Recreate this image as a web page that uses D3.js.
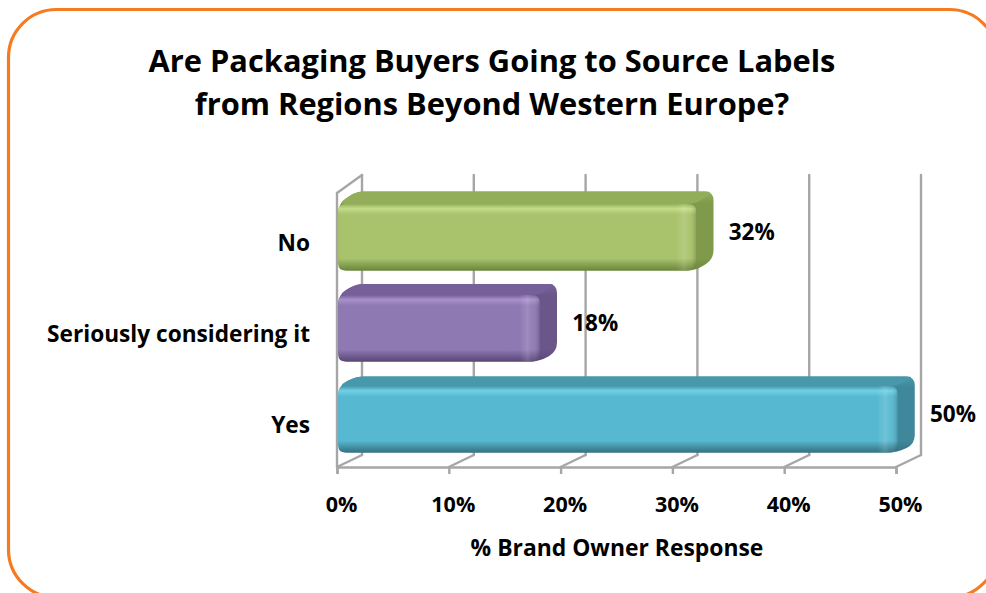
<!DOCTYPE html>
<html>
<head>
<meta charset="utf-8">
<script src="https://cdn.jsdelivr.net/npm/d3@7"></script>
<style>
  html, body { margin: 0; padding: 0; background: #fff; }
  svg { display: block; font-family: "Open Sans", Lato, sans-serif; font-weight: 700; }
</style>
</head>
<body>
<script>
// ---- data ----
const titleLines = ["Are Packaging Buyers Going to Source Labels", "from Regions Beyond Western Europe?"];
const categories = ["No", "Seriously considering it", "Yes"];
const shares = [0.32, 0.18, 0.50];
const shareLabels = ["32%", "18%", "50%"];
const tickValues = [0, 0.1, 0.2, 0.3, 0.4, 0.5];
const tickLabels = ["0%", "10%", "20%", "30%", "40%", "50%"];
const axisTitle = "% Brand Owner Response";

// ---- bar shading, one entry per category ----
const palette = [
  { front: "#A8C36B", light: "#C4DC88", top: "#93AE5A", side: "#7F9A4A", dark: "#6C873C" },
  { front: "#8F79B3", light: "#A891CB", top: "#77609A", side: "#6B568A", dark: "#594676" },
  { front: "#57B9D1", light: "#6FD0E6", top: "#4898AC", side: "#3F879A", dark: "#347284" }
];

const FONT = "'Open Sans', Lato, sans-serif";
const W = 986, H = 593;
const plot = { left: 337, right: 896, top: 193, bottom: 467 };
const DEPTH_DX = 25;
// vertical depth shift grows slightly toward the top (perspective)
const depthDy = yy => -18 + 6 * (yy - plot.top) / (plot.bottom - plot.top);
const P = (px, py, z) => [px + z * DEPTH_DX, py + z * depthDy(py)];

const x = d3.scaleLinear().domain([0, 0.5]).range([plot.left, plot.right]);
const y = d3.scaleBand().domain(categories)
  .range([plot.top, plot.bottom - 2]).paddingInner(0.27).paddingOuter(0.13);

const svg = d3.select("body").append("svg").attr("width", W).attr("height", H);
const defs = svg.append("defs");

// scale a group of texts so that a reference string reaches the given width
function fitFont(sel, refNode, targetWidth) {
  const fs = parseFloat(d3.select(refNode).attr("font-size"));
  const w = refNode.getComputedTextLength();
  sel.attr("font-size", (fs * targetWidth / w).toFixed(2));
}

// rounded frame
svg.append("rect")
  .attr("x", 8.5).attr("y", 9.5).attr("width", 989).attr("height", 588)
  .attr("rx", 48).attr("ry", 48)
  .attr("fill", "#fff").attr("stroke", "#F47B20").attr("stroke-width", 3.2);

// title
const titleText = svg.append("g").selectAll("text").data(titleLines).join("text")
  .attr("x", 492).attr("y", (d, i) => i === 0 ? 72 : 115)
  .attr("text-anchor", "middle").attr("fill", "#000")
  .attr("font-size", 30).text(d => d);
fitFont(titleText, titleText.nodes()[0], 687);

// ---- 3D walls and floor ----
const gridColor = "#A6A6A6";
const walls = svg.append("g").attr("fill", "none").attr("stroke", gridColor)
  .attr("stroke-width", 2.4).attr("stroke-linecap", "round");
const seg = (a, b) => walls.append("line")
  .attr("x1", a[0]).attr("y1", a[1]).attr("x2", b[0]).attr("y2", b[1]);

// back wall gridlines
tickValues.forEach(t => seg(P(x(t), plot.top, 1), P(x(t), plot.bottom, 1)));
// side wall
seg([plot.left, plot.top], [plot.left, plot.bottom]);
seg(P(plot.left, plot.top, 0), P(plot.left, plot.top, 1));
// floor depth lines
tickValues.forEach(t => seg(P(x(t), plot.bottom, 0), P(x(t), plot.bottom, 1)));

// front floor edge with tick marks
const xAxis = d3.axisBottom(x).tickValues(tickValues)
  .tickFormat((d, i) => tickLabels[i]).tickSize(7).tickSizeOuter(7);
const gx = svg.append("g").attr("transform", `translate(0,${plot.bottom})`).call(xAxis);
gx.selectAll("path.domain, line").attr("stroke", gridColor).attr("stroke-width", 2.4);
const tickText = gx.selectAll("text").attr("font-size", 22).attr("font-weight", 700)
  .attr("font-family", FONT).attr("fill", "#000")
  .attr("x", 4).attr("y", 512 - plot.bottom).attr("dy", 0);
fitFont(tickText, tickText.nodes()[1], 44);

// ---- bars ----
function roundedPath(pts, r) {
  const n = pts.length;
  let d = "";
  for (let i = 0; i < n; i++) {
    const p = pts[i], prev = pts[(i - 1 + n) % n], next = pts[(i + 1) % n];
    const v1 = [prev[0] - p[0], prev[1] - p[1]], v2 = [next[0] - p[0], next[1] - p[1]];
    const l1 = Math.hypot(v1[0], v1[1]), l2 = Math.hypot(v2[0], v2[1]);
    const r1 = Math.min(r, l1 / 2), r2 = Math.min(r, l2 / 2);
    const a = [p[0] + v1[0] / l1 * r1, p[1] + v1[1] / l1 * r1];
    const b = [p[0] + v2[0] / l2 * r2, p[1] + v2[1] / l2 * r2];
    d += (i === 0 ? "M" : "L") + a[0].toFixed(2) + "," + a[1].toFixed(2)
      + "Q" + p[0].toFixed(2) + "," + p[1].toFixed(2) + " " + b[0].toFixed(2) + "," + b[1].toFixed(2);
  }
  return d + "Z";
}

const zFront = 0.05, zBack = 0.75;
const bars = svg.append("g");

categories.forEach((cat, i) => {
  const c = palette[i];
  const x0 = x(0), x1 = x(shares[i]);
  const yT = y(cat), yB = yT + y.bandwidth();
  const FTL = P(x0, yT, zFront), FTR = P(x1, yT, zFront);
  const FBR = P(x1, yB, zFront), FBL = P(x0, yB, zFront);
  const BTL = P(x0, yT, zBack), BTR = P(x1, yT, zBack), BBR = P(x1, yB, zBack);

  // gradients
  const gFront = defs.append("linearGradient").attr("id", "front" + i)
    .attr("x1", 0).attr("y1", 0).attr("x2", 0).attr("y2", 1);
  [[0, c.top], [0.07, c.light], [0.16, c.front], [0.82, c.front], [0.94, c.side], [1, c.dark]]
    .forEach(s => gFront.append("stop").attr("offset", s[0]).attr("stop-color", s[1]));

  const gSide = defs.append("linearGradient").attr("id", "side" + i)
    .attr("x1", 0).attr("y1", 0).attr("x2", 0).attr("y2", 1);
  [[0, c.top], [0.15, c.side], [0.85, c.side], [1, c.dark]]
    .forEach(s => gSide.append("stop").attr("offset", s[0]).attr("stop-color", s[1]));

  const gEnd = defs.append("linearGradient").attr("id", "end" + i)
    .attr("x1", 0).attr("y1", 0).attr("x2", 1).attr("y2", 0);
  [[0, "#fff", 0], [0.4, "#fff", 0.14], [0.65, "#fff", 0.04], [1, "#000", 0.16]]
    .forEach(s => gEnd.append("stop").attr("offset", s[0])
      .attr("stop-color", s[1]).attr("stop-opacity", s[2]));

  const g = bars.append("g");
  // whole body (side face colour)
  g.append("path").attr("d", roundedPath([FBL, FTL, BTL, BTR, BBR, FBR], 9))
    .attr("fill", "url(#side" + i + ")");
  // top face
  g.append("path").attr("d", roundedPath([FTL, BTL, BTR, FTR], 8))
    .attr("fill", c.top);
  // front face
  const frontD = roundedPath([FTL, FTR, FBR, FBL], 7);
  g.append("path").attr("d", frontD).attr("fill", "url(#front" + i + ")");
  defs.append("clipPath").attr("id", "clip" + i).append("path").attr("d", frontD);
  // bevel shading at the bar end
  g.append("rect").attr("clip-path", "url(#clip" + i + ")")
    .attr("x", FTR[0] - 20).attr("y", FTL[1]).attr("width", 20).attr("height", FBL[1] - FTL[1])
    .attr("fill", "url(#end" + i + ")");
});

// value labels
const valueText = svg.append("g").selectAll("text").data(categories).join("text")
  .attr("x", (d, i) => x(shares[i]) + DEPTH_DX + 9)
  .attr("y", d => y(d) + y.bandwidth() / 2 + 2)
  .attr("font-size", 22).attr("fill", "#000")
  .text((d, i) => shareLabels[i]);
fitFont(valueText, valueText.nodes()[0], 46);

// category axis
const yAxis = d3.axisLeft(y).tickSize(0).tickPadding(27);
const gy = svg.append("g").attr("transform", `translate(${plot.left},0)`).call(yAxis);
gy.select("path.domain").remove();
const catText = gy.selectAll("text").attr("font-size", 22).attr("font-weight", 700)
  .attr("font-family", FONT).attr("fill", "#000").attr("dy", 0).attr("y", 13);
fitFont(catText, catText.nodes()[1], 263);

// axis title
const axisTitleText = svg.append("text").attr("x", 617).attr("y", 556).attr("text-anchor", "middle")
  .attr("font-size", 21).attr("fill", "#000").text(axisTitle);
fitFont(axisTitleText, axisTitleText.node(), 293);
</script>
</body>
</html>
